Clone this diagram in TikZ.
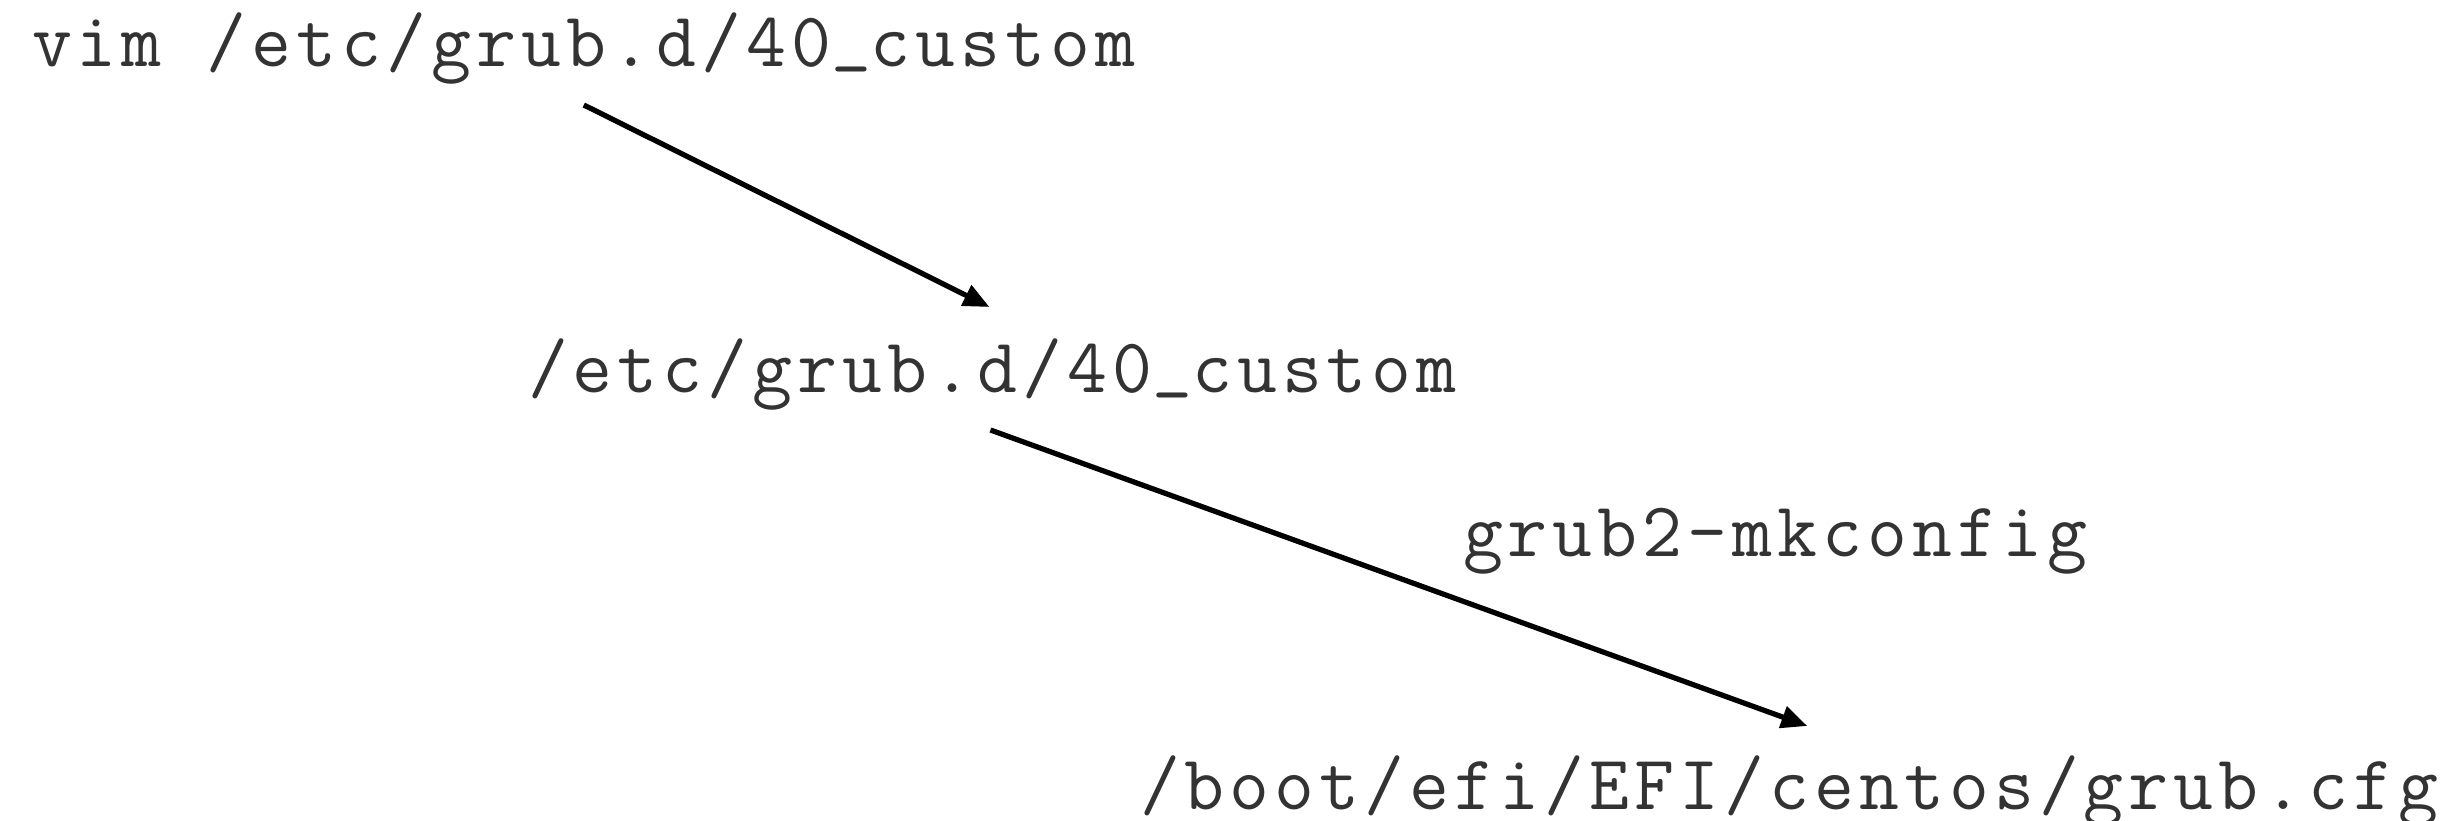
\documentclass[tikz,border=0pt]{standalone}
\usepackage{fontspec}
\setmonofont[LetterSpace=6.5]{Latin Modern Mono}
\usepackage{tikz}
\usetikzlibrary{calc, arrows.meta, positioning}
\newcommand\usc{\raisebox{0.13em}{\_}}% underscore sitting on the base line
\tikzset{
    x=0.2pt, y=-0.2pt,% one unit is one pixel of the screen shot, y runs downwards
    fname/.style = {anchor=base west, inner sep=0pt, text=black!80, font=\ttfamily\fontsize{15.5}{18}\selectfont}, % the file names and commands
    flow/.style = {line width=1.05pt, -{Triangle[length=5.2pt, width=4.4pt]}}
}
\begin{document}
\begin{tikzpicture}
    \useasboundingbox (0,0) rectangle (2462,821);
    \node [fname] (vim)  at (31,67)   {vim /etc/grub.d/40\usc custom};
    \node [fname] (cust) at (527,393) {/etc/grub.d/40\usc custom};
    \node [fname] (mk)   at (1462,557) {grub2-mkconfig};
    \node [fname] (cfg)  at (1139,810) {/boot/efi/EFI/centos/grub.cfg};
    % \draw [flow] (vim) -- (cust);
    \draw [flow] ([shift={(0,38)}]vim.base) -- ([shift={(-3,-86)}]cust.base);
    \draw [flow] ([shift={(-2,37)}]cust.base) -- ([shift={(18,-84)}]cfg.base);
\end{tikzpicture}
\end{document}
